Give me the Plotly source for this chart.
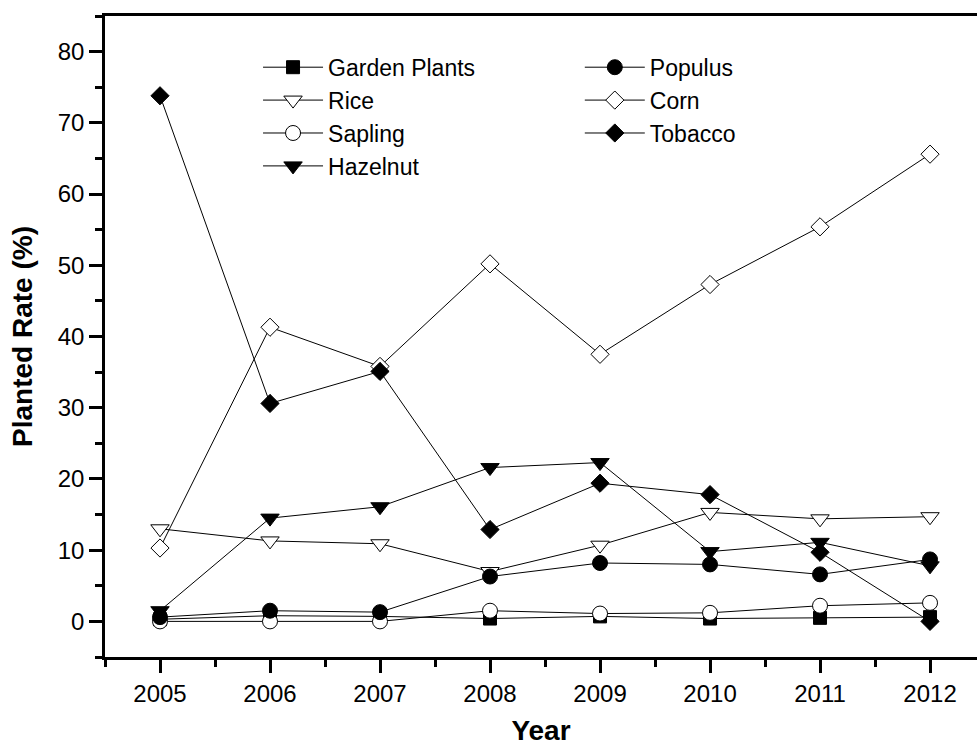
import plotly.graph_objects as go

years = [2005, 2006, 2007, 2008, 2009, 2010, 2011, 2012]
garden_plants = [0.3, 0.8, 0.7, 0.4, 0.7, 0.4, 0.5, 0.6]
rice = [13.0, 11.3, 10.9, 7.0, 10.7, 15.3, 14.4, 14.7]
sapling = [0.0, 0.0, 0.0, 1.5, 1.1, 1.2, 2.2, 2.6]
hazelnut = [1.5, 14.5, 16.1, 21.6, 22.3, 9.8, 11.1, 7.8]
populus = [0.6, 1.5, 1.3, 6.3, 8.2, 8.0, 6.6, 8.7]
corn = [10.3, 41.3, 35.8, 50.2, 37.5, 47.3, 55.4, 65.6]
tobacco = [73.8, 30.6, 35.1, 12.9, 19.4, 17.8, 9.7, 0.0]

FONT = "Liberation Sans, Arial, sans-serif"

series = [
    ("Garden Plants", garden_plants, "square", "black", 13, "legend"),
    ("Rice", rice, "triangle-down", "white", 16, "legend"),
    ("Sapling", sapling, "circle", "white", 15, "legend"),
    ("Hazelnut", hazelnut, "triangle-down", "black", 16, "legend"),
    ("Populus", populus, "circle", "black", 15, "legend2"),
    ("Corn", corn, "diamond", "white", 14, "legend2"),
    ("Tobacco", tobacco, "diamond", "black", 14, "legend2"),
]

fig = go.Figure()
for name, vals, sym, fill, size, lg in series:
    fig.add_trace(go.Scatter(
        x=years, y=vals, name=name, mode="lines+markers",
        line=dict(color="black", width=1),
        marker=dict(symbol=sym, size=size, color=fill,
                    line=dict(color="black", width=1)),
        legend=lg,
    ))

legend_common = dict(
    bgcolor="rgba(0,0,0,0)", borderwidth=0,
    font=dict(family=FONT, size=23, color="black"),
    itemwidth=60, xanchor="left", yanchor="top", tracegroupgap=0,
)

fig.update_layout(
    width=977, height=746,
    margin=dict(l=105, r=0, t=16, b=89, autoexpand=False),
    paper_bgcolor="white", plot_bgcolor="white",
    font=dict(family=FONT, size=24, color="black"),
    showlegend=True,
    legend=dict(x=0.1755, y=0.9536, **legend_common),
    legend2=dict(x=0.5445, y=0.9536, **legend_common),
    xaxis=dict(
        range=[2004.5, 2012.427], tick0=2005, dtick=1, automargin=False,
        showline=True, linecolor="black", linewidth=2.5, mirror=True,
        ticks="outside", ticklen=13, tickwidth=2.5, tickcolor="black",
        minor=dict(dtick=0.5, tick0=2004.5, ticks="outside", ticklen=7,
                   tickwidth=2.5, tickcolor="black"),
        showgrid=False, zeroline=False,
        tickfont=dict(family=FONT, size=24, color="black"),
        title=dict(text="<b>Year</b>", font=dict(family=FONT, size=28, color="black"),
                   standoff=20),
    ),
    yaxis=dict(
        range=[-5, 85], tick0=0, dtick=10, automargin=False,
        tickvals=[0, 10, 20, 30, 40, 50, 60, 70, 80],
        showline=True, linecolor="black", linewidth=2.5, mirror=False,
        ticks="outside", ticklen=13, tickwidth=2.5, tickcolor="black",
        minor=dict(dtick=5, tick0=-5, ticks="outside", ticklen=7,
                   tickwidth=2.5, tickcolor="black"),
        showgrid=False, zeroline=False,
        tickfont=dict(family=FONT, size=24, color="black"),
        title=dict(text="<b>Planted Rate (%)</b>", font=dict(family=FONT, size=28, color="black"),
                   standoff=17),
    ),
)

fig.write_html(
    "out.html",
    config={"displayModeBar": False},
    post_script="document.body.style.margin='0';document.body.style.overflow='hidden';",
)
